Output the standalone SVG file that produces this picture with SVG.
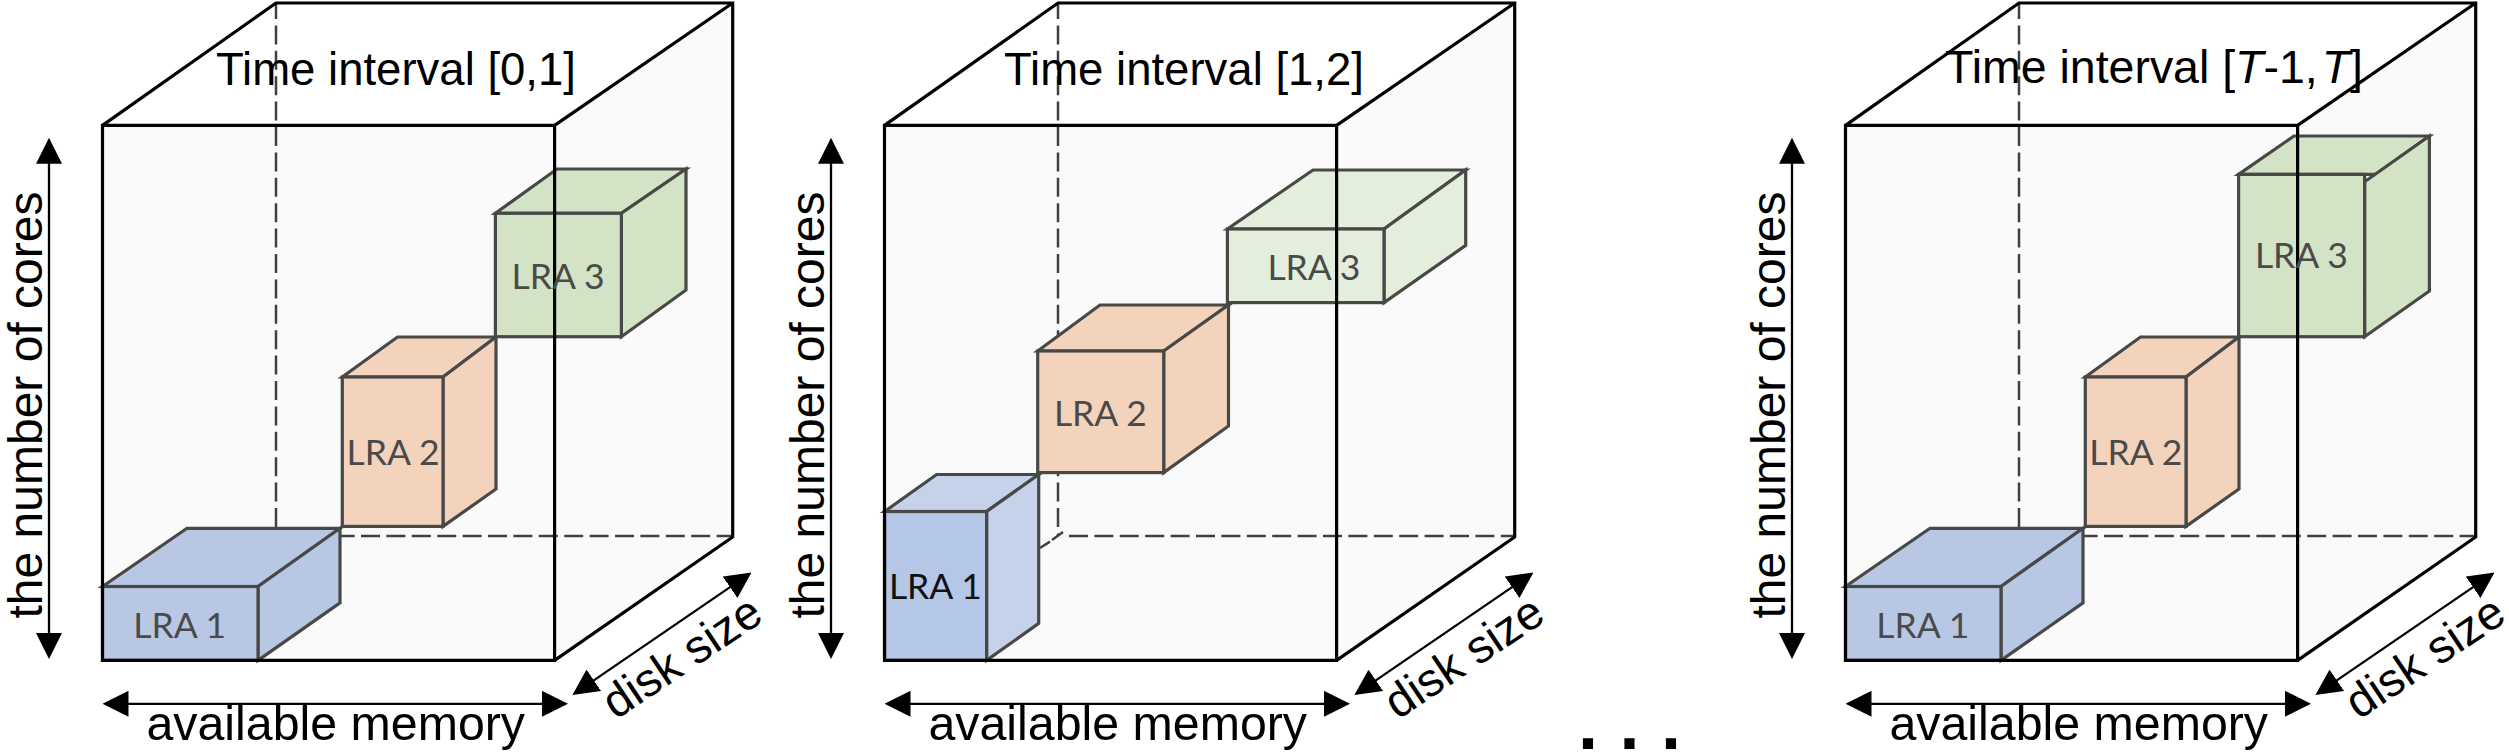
<svg xmlns="http://www.w3.org/2000/svg" width="2509" height="753" viewBox="0 0 2509 753">
<style>
.side{fill:#fafafa;stroke:none}
.edge{fill:none;stroke:#000;stroke-width:3.2;stroke-linejoin:miter}
.dash{fill:none;stroke:#404040;stroke-width:2.5;stroke-dasharray:19 6.4}
.dv{stroke-dashoffset:3}
.c{stroke:#484846;stroke-width:3.2;stroke-linejoin:miter}
.blue{fill:#b8c8e4}.blue2{fill:#c5d2e9}.blue3{fill:#b4c7e7}
.org{fill:#f4d3bd}
.grn{fill:#d2e3c6}.grn2{fill:#e4eedc}
.ar{stroke:#000;stroke-width:2.3;fill:none;marker-start:url(#h);marker-end:url(#h)}
.t{font-family:"Liberation Sans",Arial,sans-serif;fill:#000}
.big{font-size:48.3px}
.core{font-size:48px}
.disk{font-size:47px}
.title{font-size:45.5px}
.lra{font-family:Lato,"Liberation Sans",sans-serif;font-size:35.5px;fill:#4a4a4a;text-anchor:middle}
</style>
<defs>
<marker id="h" viewBox="0 0 26 26" refX="16" refY="13" markerUnits="userSpaceOnUse" markerWidth="26" markerHeight="26" orient="auto-start-reverse"><path d="M0 0L26 13L0 26Z" fill="#000"/></marker>
</defs>
<rect width="2509" height="753" fill="#fff"/>

<g id="panel1">
<g id="box1-back">
<rect class="side" x="102.5" y="125.4" width="452.1" height="535"/>
<polygon class="side" points="554.6,125.4 732.7,2.9 732.7,537 554.6,660.4"/>
<path class="dash dv" d="M276 3V536"/>
<path class="dash" d="M335.6 536H732.7"/>
</g>
<g id="p1-lra1">
<polygon class="c blue" points="102.5,586.5 187,528.3 340,528.3 258,586.5"/>
<polygon class="c blue" points="258,586.5 340,528.3 340,602.8 258,660.4"/>
<rect class="c blue" x="102.5" y="586.5" width="155.5" height="73.9"/>
</g>
<g id="p1-lra2">
<polygon class="c org" points="342.3,377 397.5,337 496,337 443,377"/>
<polygon class="c org" points="443,377 496,337 496,489 443,526.4"/>
<rect class="c org" x="342.3" y="377" width="100.7" height="149.4"/>
</g>
<g id="p1-lra3">
<polygon class="c grn" points="495.4,213.3 557,169 686,169 621.4,213.3"/>
<polygon class="c grn" points="621.4,213.3 686,169 686,290 621.4,336.7"/>
<rect class="c grn" x="495.4" y="213.3" width="126" height="123.4"/>
</g>
<g id="box1-front">
<path class="edge" d="M102.5 125.4H554.6V660.4H102.5ZM102.5 125.4L276 3H732.7V537L554.6 660.4M554.6 125.4L732.7 3"/>
</g>
<g id="p1-labels">
<text class="lra" x="179.7" y="638">LRA 1</text>
<text class="lra" x="393" y="464.5">LRA 2</text>
<text class="lra" x="558" y="289">LRA 3</text>
<text class="t title" x="216" y="85">Time interval [0,1]</text>
<text class="t core" transform="translate(41.7 618.5) rotate(-90)">the number of cores</text>
<text class="t big" x="146.5" y="739.7">available memory</text>
<text class="t disk" transform="translate(615.7 720.3) rotate(-33.8)">disk size</text>
</g>
<g id="p1-connectors">
<path class="ar" d="M49 147.8V649"/>
<path class="ar" d="M112.5 703.8H558"/>
<path class="ar" d="M580.65 689.35L743.25 578.15"/>
</g>
</g>

<g id="panel2" transform="translate(782 0)">
<g id="box2-back">
<rect class="side" x="102.5" y="125.4" width="452.1" height="535"/>
<polygon class="side" points="554.6,125.4 732.7,2.9 732.7,537 554.6,660.4"/>
<path class="dash dv" d="M276 3V536"/>
<path class="dash" d="M287 536H732.7"/>
<path class="dash" d="M281 532L270 540M268 541.6L258 548"/>
</g>
<g id="p2-lra1">
<polygon class="c blue2" points="102.6,511.5 154.6,474.5 256.7,474.5 204.6,511.5"/>
<polygon class="c blue2" points="204.6,511.5 256.7,474.5 256.7,623.4 204.6,660.4"/>
<rect class="c blue3" x="102.6" y="511.5" width="102" height="148.9"/>
</g>
<g id="p2-lra2">
<polygon class="c org" points="255.7,351 318,305 446.5,305 381.7,351"/>
<polygon class="c org" points="381.7,351 446.5,305 446.5,426 381.7,472.6"/>
<rect class="c org" x="255.7" y="351" width="126" height="121.6"/>
</g>
<g id="p2-lra3">
<polygon class="c grn2" points="445.4,229 531,170 683.7,170 602,229"/>
<polygon class="c grn2" points="602,229 683.7,170 683.7,245.4 602,302.6"/>
<rect class="c grn2" x="445.4" y="229" width="156.6" height="73.6"/>
</g>
<g id="box2-front">
<path class="edge" d="M102.5 125.4H554.6V660.4H102.5ZM102.5 125.4L276 3H732.7V537L554.6 660.4M554.6 125.4L732.7 3"/>
</g>
<g id="p2-labels">
<text class="lra" x="153.4" y="599.4" style="fill:#111">LRA 1</text>
<text class="lra" x="318.4" y="425.5">LRA 2</text>
<text class="lra" x="531.9" y="280">LRA 3</text>
<text class="t title" x="222" y="85">Time interval [1,2]</text>
<text class="t core" transform="translate(41.7 618.5) rotate(-90)">the number of cores</text>
<text class="t big" x="146.5" y="739.7">available memory</text>
<text class="t disk" transform="translate(615.7 720.3) rotate(-33.8)">disk size</text>
</g>
<g id="p2-connectors">
<path class="ar" d="M49 147.8V649"/>
<path class="ar" d="M112.5 703.8H558"/>
<path class="ar" d="M580.65 689.35L743.25 578.15"/>
</g>
</g>

<g id="panel3" transform="translate(1743 0)">
<g id="box3-back">
<rect class="side" x="102.5" y="125.4" width="452.1" height="535"/>
<polygon class="side" points="554.6,125.4 732.7,2.9 732.7,537 554.6,660.4"/>
<path class="dash dv" d="M276 3V536"/>
<path class="dash" d="M335.6 536H732.7"/>
</g>
<g id="p3-lra1">
<polygon class="c blue" points="102.5,586.5 187,528.3 340,528.3 258,586.5"/>
<polygon class="c blue" points="258,586.5 340,528.3 340,602.8 258,660.4"/>
<rect class="c blue" x="102.5" y="586.5" width="155.5" height="73.9"/>
</g>
<g id="p3-lra2">
<polygon class="c org" points="342.3,377 397.5,337 496,337 443,377"/>
<polygon class="c org" points="443,377 496,337 496,489 443,526.4"/>
<rect class="c org" x="342.3" y="377" width="100.7" height="149.4"/>
</g>
<g id="p3-lra3">
<polygon class="c grn" points="495.6,174.4 551,136 686.4,136 633,174.4"/>
<polygon class="c grn" points="621.6,181.7 686.4,136 686.4,291 621.6,336.7"/>
<rect class="c grn" x="495.6" y="174.4" width="126" height="162.3"/>
</g>
<g id="box3-front">
<path class="edge" d="M102.5 125.4H554.6V660.4H102.5ZM102.5 125.4L276 3H732.7V537L554.6 660.4M554.6 125.4L732.7 3"/>
</g>
<g id="p3-labels">
<text class="lra" x="179.8" y="638">LRA 1</text>
<text class="lra" x="392.8" y="464.5">LRA 2</text>
<text class="lra" x="558.4" y="267.5">LRA 3</text>
<text class="t" style="font-size:46.5px" x="202" y="82.6" textLength="418">Time interval [<tspan font-style="italic">T</tspan>-1,<tspan font-style="italic" dx="4">T</tspan>]</text>
<text class="t core" transform="translate(41.7 618.5) rotate(-90)">the number of cores</text>
<text class="t big" x="146.5" y="739.7">available memory</text>
<text class="t disk" transform="translate(615.7 720.3) rotate(-33.8)">disk size</text>
</g>
<g id="p3-connectors">
<path class="ar" d="M49 147.8V649"/>
<path class="ar" d="M112.5 703.8H558"/>
<path class="ar" d="M580.65 689.35L743.25 578.15"/>
</g>
</g>
<text id="ellipsis" class="t" x="1578" y="749" style="font-size:72px;font-weight:bold;letter-spacing:21.5px">...</text>
</svg>
